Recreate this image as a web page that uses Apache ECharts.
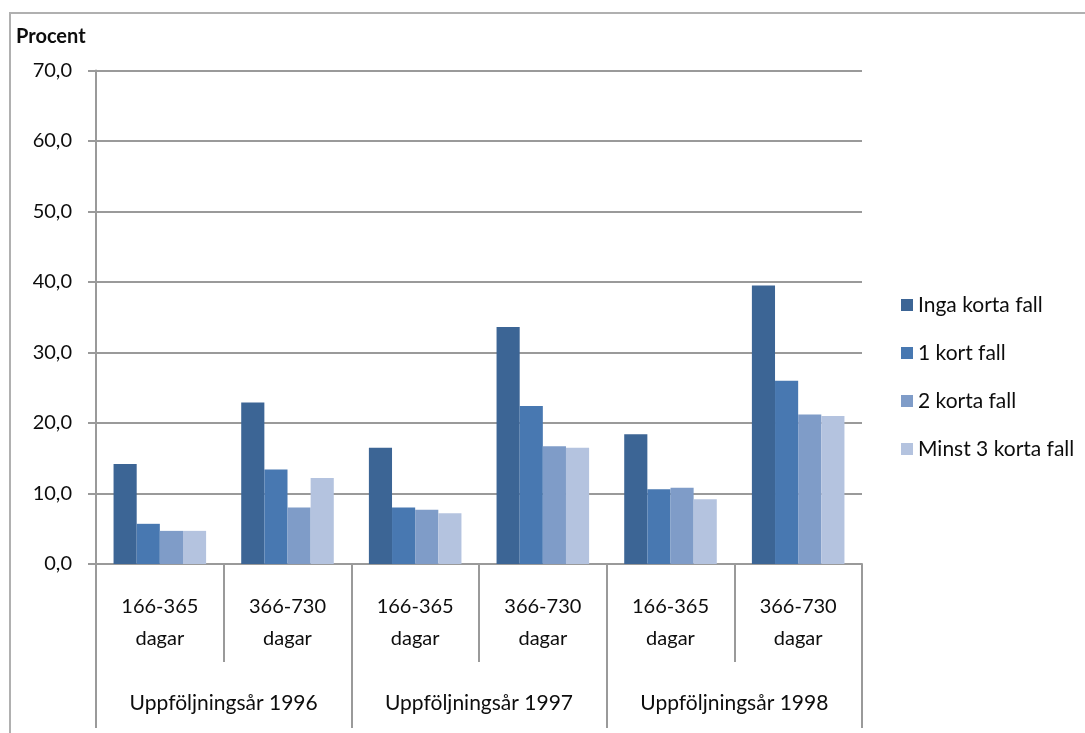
<!DOCTYPE html>
<html>
<head>
<meta charset="utf-8">
<script src="https://cdn.jsdelivr.net/npm/echarts@6/dist/echarts.min.js"></script>
<style>
  html, body { margin: 0; padding: 0; background: #ffffff; }
  #chart { width: 1085px; height: 733px; }
</style>
</head>
<body>
<div id="chart"></div>
<script>
// Sjukfall per längd och uppföljningsår, andel i procent
const periods = ['166-365\ndagar', '366-730\ndagar', '166-365\ndagar', '366-730\ndagar', '166-365\ndagar', '366-730\ndagar'];
const years = ['Uppföljningsår 1996', 'Uppföljningsår 1997', 'Uppföljningsår 1998'];
const seriesNames = ['Inga korta fall', '1 kort fall', '2 korta fall', 'Minst 3 korta fall'];
const ingaKorta = [14.2, 22.9, 16.5, 33.6, 18.4, 39.5];
const ettKort = [5.7, 13.4, 8.0, 22.4, 10.6, 26.0];
const tvaKorta = [4.7, 8.0, 7.7, 16.7, 10.8, 21.2];
const minstTre = [4.7, 12.2, 7.2, 16.5, 9.2, 21.0];
const colors = ['#3c6595', '#4878b1', '#7f9cc8', '#b4c3df'];

const FONT = 'Lato, "Open Sans", sans-serif';
const TXT = '#0d0d0d';
const LINE = '#9a9a9a';

const values = [ingaKorta, ettKort, tvaKorta, minstTre];

const chart = echarts.init(document.getElementById('chart'), null, { renderer: 'canvas' });
chart.setOption({
  animation: false,
  backgroundColor: '#ffffff',
  textStyle: { fontFamily: FONT },
  graphic: [
    {
      type: 'polyline',
      shape: { points: [[10, 740], [10, 13], [1090, 13]] },
      style: { stroke: '#b0b0b0', lineWidth: 2, fill: null },
      silent: true
    },
    {
      type: 'text',
      left: 16,
      top: 27,
      style: { text: 'Procent', fontFamily: FONT, fontWeight: 'bold', fontSize: 20, fill: TXT }
    }
  ],
  grid: { left: 96, right: 223, top: 70.5, bottom: 169 },
  legend: {
    orient: 'vertical',
    left: 896,
    top: 289,
    icon: 'rect',
    itemWidth: 12,
    itemHeight: 12,
    itemGap: 26,
    textStyle: { fontFamily: FONT, fontSize: 21, color: TXT, lineHeight: 22 },
    data: seriesNames
  },
  xAxis: [
    {
      type: 'category',
      data: periods,
      position: 'bottom',
      axisLine: { show: true, lineStyle: { color: LINE, width: 2 } },
      axisTick: { show: true, length: 98, lineStyle: { color: LINE, width: 2 } },
      axisLabel: { fontFamily: FONT, fontSize: 20, color: TXT, lineHeight: 32, margin: 27, interval: 0 }
    },
    {
      type: 'category',
      data: years,
      position: 'bottom',
      axisLine: { show: false },
      axisTick: { show: true, length: 164, lineStyle: { color: LINE, width: 2 } },
      axisLabel: { fontFamily: FONT, fontSize: 21, color: TXT, margin: 129, interval: 0 }
    }
  ],
  yAxis: {
    type: 'value',
    min: 0,
    max: 70,
    interval: 10,
    axisLine: { show: true, lineStyle: { color: LINE, width: 2 } },
    axisTick: { show: true, length: 8, lineStyle: { color: LINE, width: 2 } },
    splitLine: { show: true, lineStyle: { color: LINE, width: 2 } },
    axisLabel: {
      fontFamily: FONT, fontSize: 20, color: TXT, margin: 24,
      formatter: v => v.toFixed(1).replace('.', ',')
    }
  },
  series: seriesNames.map((name, i) => ({
    name: name,
    type: 'bar',
    xAxisIndex: 0,
    data: values[i],
    barGap: '0%',
    barCategoryGap: '27.5%',
    itemStyle: { color: colors[i] }
  }))
});
</script>
</body>
</html>
